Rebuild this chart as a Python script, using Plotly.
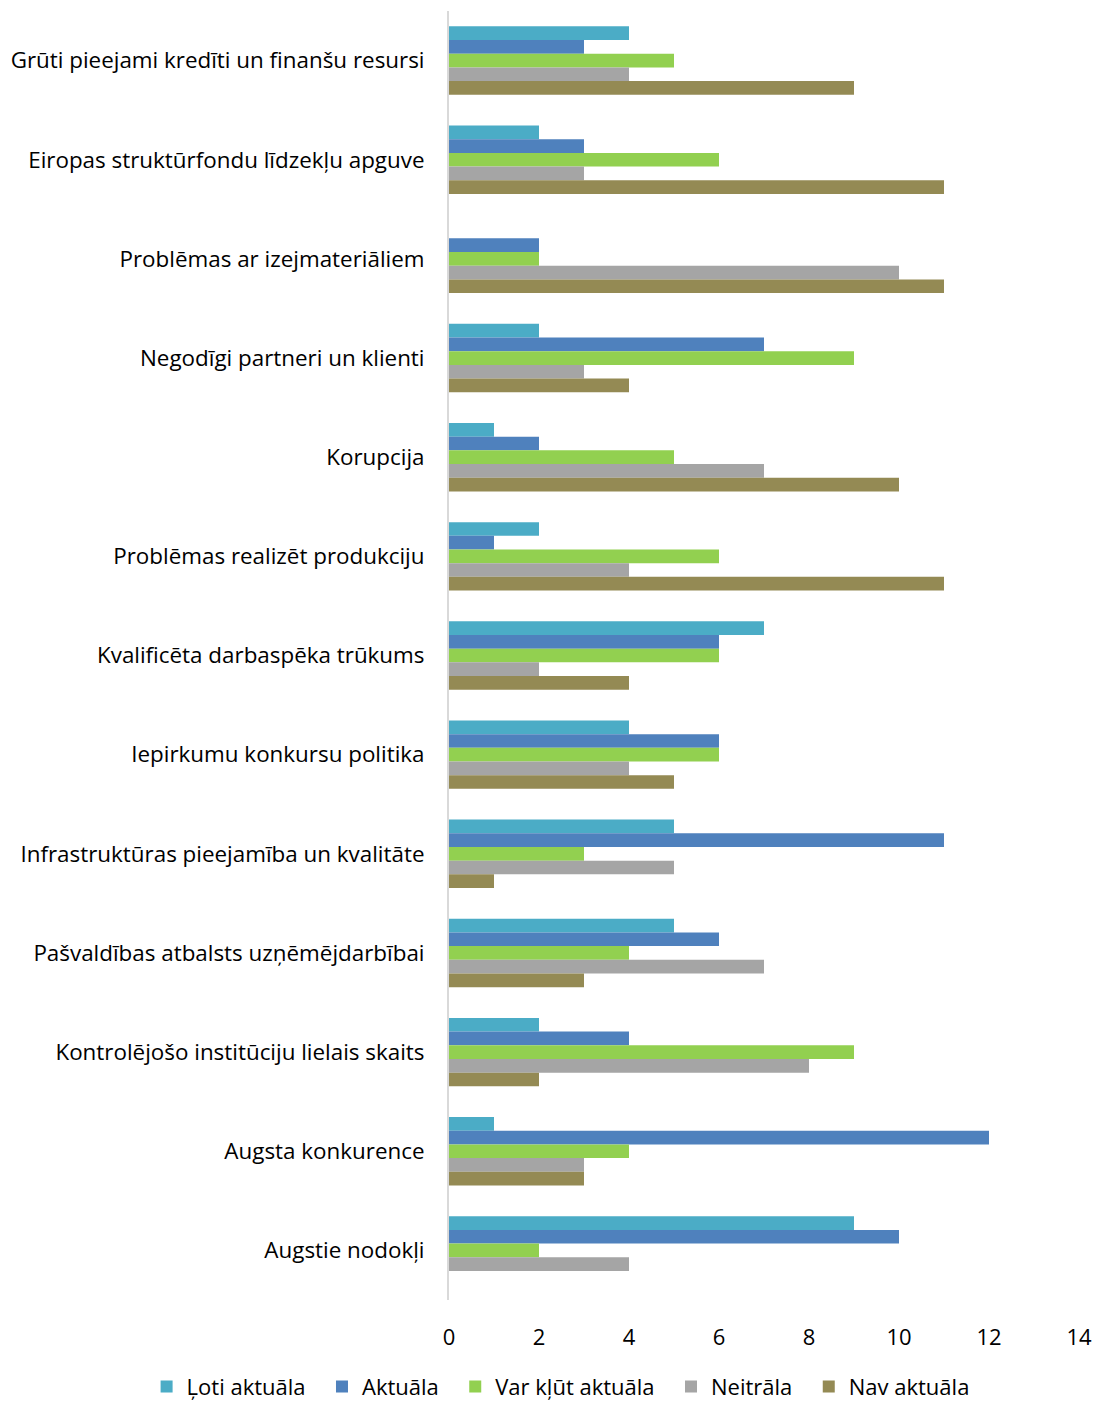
import plotly.graph_objects as go

categories = [
    "Grūti pieejami kredīti un finanšu resursi",
    "Eiropas struktūrfondu līdzekļu apguve",
    "Problēmas ar izejmateriāliem",
    "Negodīgi partneri un klienti",
    "Korupcija",
    "Problēmas realizēt produkciju",
    "Kvalificēta darbaspēka trūkums",
    "Iepirkumu konkursu politika",
    "Infrastruktūras pieejamība un kvalitāte",
    "Pašvaldības atbalsts uzņēmējdarbībai",
    "Kontrolējošo institūciju lielais skaits",
    "Augsta konkurence",
    "Augstie nodokļi",
]

loti_aktuala = [4, 2, 0, 2, 1, 2, 7, 4, 5, 5, 2, 1, 9]
aktuala = [3, 3, 2, 7, 2, 1, 6, 6, 11, 6, 4, 12, 10]
var_klut = [5, 6, 2, 9, 5, 6, 6, 6, 3, 4, 9, 4, 2]
neitrala = [4, 3, 10, 3, 7, 4, 2, 4, 5, 7, 8, 3, 4]
nav_aktuala = [9, 11, 11, 4, 10, 11, 4, 5, 1, 3, 2, 3, 0]

series_names = ["Ļoti aktuāla", "Aktuāla", "Var kļūt aktuāla", "Neitrāla", "Nav aktuāla"]
series_values = [loti_aktuala, aktuala, var_klut, neitrala, nav_aktuala]
colors = ["#4BACC6", "#4F81BD", "#92D050", "#A5A5A5", "#948A54"]

x_ticks = [0, 2, 4, 6, 8, 10, 12, 14]

fig = go.Figure()
for i, (name, vals, col) in enumerate(zip(series_names, series_values, colors)):
    pad = "\u00a0\u00a0" if i < len(series_names) - 1 else ""
    fig.add_trace(go.Bar(
        y=categories, x=vals, name=name + pad, orientation="h",
        marker=dict(color=col, line=dict(width=0)),
    ))

font_family = "Open Sans, Noto Sans, sans-serif"
fig.update_layout(
    width=1095, height=1402,
    barmode="group", bargap=0.31, bargroupgap=0,
    plot_bgcolor="white", paper_bgcolor="white",
    margin=dict(l=449, r=16, t=11, b=102, autoexpand=False),
    font=dict(family=font_family, size=22, color="#000000"),
    legend=dict(orientation="h", xref="paper", yref="paper",
                x=-0.48, xanchor="left", y=-0.0672, yanchor="middle",
                font=dict(size=22), itemwidth=30, tracegroupgap=0,
                traceorder="normal", bgcolor="rgba(0,0,0,0)"),
    showlegend=True,
)
fig.update_xaxes(range=[0, 14], tickvals=x_ticks, showgrid=False, zeroline=False,
                 showline=False, ticks="", ticklabelstandoff=22, automargin=False,
                 tickfont=dict(size=22))
fig.update_yaxes(categoryorder="array", categoryarray=categories, autorange="reversed",
                 showgrid=False, zeroline=False, showline=True, linecolor="#D9D9D9",
                 linewidth=2, ticks="", ticklabelstandoff=18, automargin=False,
                 tickfont=dict(size=22.4))

fig.write_html(
    "out.html",
    config={"displayModeBar": False},
    post_script="document.body.style.margin='0';document.body.style.overflow='hidden';",
)
